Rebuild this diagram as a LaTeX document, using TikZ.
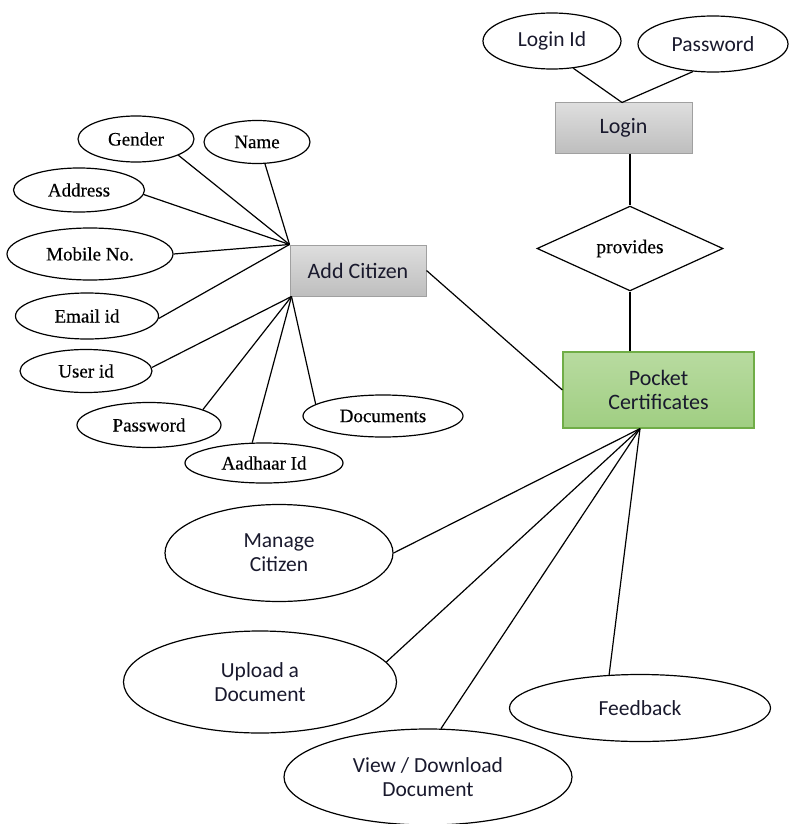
\documentclass[tikz,border=0pt]{standalone}
\usepackage{fontspec}
\setmainfont{Liberation Serif}[FakeBold=0.4]
\newfontfamily\calib{Carlito}
\usetikzlibrary{shapes.geometric}
\definecolor{grayedge}{RGB}{160,160,160}
\definecolor{graytop}{RGB}{222,222,222}
\definecolor{graybot}{RGB}{190,190,190}
\definecolor{greenedge}{RGB}{112,173,71}
\definecolor{greentop}{RGB}{184,219,160}
\definecolor{greenbot}{RGB}{160,206,130}
\definecolor{txt}{RGB}{25,25,45}
\begin{document}
\begin{tikzpicture}[x=1pt,y=-1pt,
  attr/.style={draw, ellipse, line width=1.2pt, inner sep=0pt,
    font=\fontsize{19}{21}\selectfont},
  cattr/.style={draw, ellipse, line width=1.2pt, inner sep=0pt, align=center,
    text=txt, font=\calib\fontsize{21.5}{24}\selectfont},
  graybox/.style={draw=grayedge, line width=1pt, top color=graytop, bottom color=graybot,
    inner sep=0pt, text=txt, font=\calib\fontsize{22}{24}\selectfont},
  greenbox/.style={draw=greenedge, line width=1.2pt, top color=greentop, bottom color=greenbot,
    inner sep=0pt, align=center, text=txt, font=\calib\fontsize{22}{24}\selectfont},
  relbox/.style={draw, diamond, line width=1.2pt, inner sep=0pt,
    font=\fontsize{19.5}{21}\selectfont},
  conn/.style={line width=1.2pt}]
\useasboundingbox (0,0) rectangle (790,824);

% entities
\node[graybox, minimum width=137pt, minimum height=50pt] (login) at (623.5,128) {Login};
\node[graybox, minimum width=136pt, minimum height=51pt] (addc) at (358,270.5) {Add Citizen};
\node[greenbox, minimum width=191pt, minimum height=76pt] (pocket) at (658.5,390) {Pocket\\Certificates};
\node[relbox, minimum width=186pt, minimum height=65pt] (prov) at (630,248.5) {provides};

% login attributes
\node[cattr, minimum width=138pt, minimum height=56pt] (loginid) at (552,41) {Login Id};
\node[cattr, minimum width=150pt, minimum height=56pt] (lpass) at (713,44) {Password};

% citizen attributes
\node[attr, minimum width=116pt, minimum height=46pt] (gender) at (136,139) {Gender};
\node[attr, minimum width=106pt, minimum height=43pt] (name) at (257,142) {Name};
\node[attr, minimum width=131pt, minimum height=44pt] (address) at (79,190) {Address};
\node[attr, minimum width=166pt, minimum height=52pt] (mobile) at (90,254) {Mobile No.};
\node[attr, minimum width=143pt, minimum height=46pt] (email) at (87,316) {Email id};
\node[attr, minimum width=132pt, minimum height=43pt] (userid) at (86,371) {User id};
\node[attr, minimum width=144pt, minimum height=45pt] (cpass) at (149,425) {Password};
\node[attr, minimum width=158pt, minimum height=40pt] (aadhaar) at (264,463) {Aadhaar Id};
\node[attr, minimum width=160pt, minimum height=42pt] (docs) at (383,416) {Documents};

% pocket functions
\node[cattr, minimum width=228pt, minimum height=97pt] (manage) at (279,553) {Manage\\Citizen};
\node[cattr, minimum width=273pt, minimum height=102pt] (upload) at (260,682) {Upload a\\Document};
\node[cattr, minimum width=288pt, minimum height=96pt] (view) at (428,777) {View / Download\\Document};
\node[cattr, minimum width=261pt, minimum height=67pt] (feedback) at (640,708) {Feedback};

% hubs
\coordinate (hubA) at (addc.north west);
\coordinate (hubB) at ([xshift=2pt]addc.south west);
\coordinate (hubP) at ([xshift=-18.5pt]pocket.south);
\coordinate (hubL) at ([xshift=-1.5pt]login.north);

% connectors
\draw[conn] (loginid.-52) -- (hubL);
\draw[conn] (lpass.-126) -- (hubL);
\draw[conn] (prov.north |- login.south) -- (prov.north);
\draw[conn] (prov.south) -- (prov.south |- pocket.north);
\draw[conn] (addc.east) -- (pocket.west);

\draw[conn] (gender.-21) -- (hubA);
\draw[conn] (name.-70) -- (hubA);
\draw[conn] (address.-4) -- (hubA);
\draw[conn] (mobile.east) -- (hubA);
\draw[conn] (email.-2) -- (hubA);
\draw[conn] (userid.3) -- (hubB);
\draw[conn] (cpass.16) -- (hubB);
\draw[conn] (aadhaar.120) -- (hubB);
\draw[conn] (docs.170) -- (hubB);

\draw[conn] (manage.east) -- (hubP);
\draw[conn] (upload.9) -- (hubP);
\draw[conn] (view.75) -- (hubP);
\draw[conn] (feedback.133) -- (hubP);
\end{tikzpicture}
\end{document}
